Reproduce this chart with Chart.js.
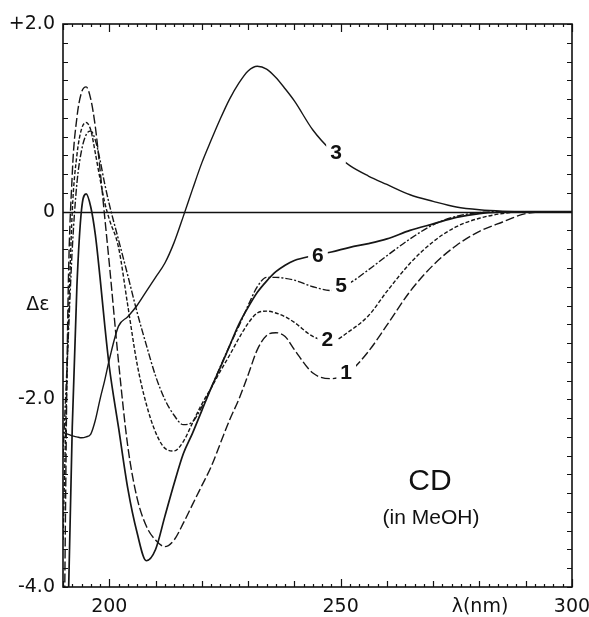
<!DOCTYPE html>
<html><head><meta charset="utf-8">
<script src="https://cdn.jsdelivr.net/npm/chart.js@4/dist/chart.umd.min.js"></script>
<style>html,body{margin:0;padding:0;background:#fff;overflow:hidden}</style>
</head><body>
<canvas id="c" width="589" height="617"></canvas>
<script>
// wavelength grid (nm)
const wavelengths = [190,191,192,193,194,195,196,197,198,199,200,202,204,206,208,210,212,214,216,218,220,222,224,226,228,230,232,234,236,238,240,244,248,252,256,260,265,270,275,280,285,290,295,300];
// Δε values for each compound
const curve1 = [-6.0,-1.2,0.4,1.0,1.27,1.33,1.2,0.9,0.45,-0.05,-0.55,-1.6,-2.5,-3.05,-3.35,-3.5,-3.57,-3.5,-3.32,-3.12,-2.92,-2.72,-2.47,-2.22,-2.0,-1.74,-1.47,-1.32,-1.29,-1.33,-1.47,-1.72,-1.78,-1.70,-1.49,-1.21,-0.85,-0.57,-0.36,-0.21,-0.11,-0.02,0,0];
const curve2 = [-3.5,-1.5,0.0,0.6,0.88,0.95,0.87,0.62,0.35,0.1,-0.08,-0.38,-1.0,-1.62,-2.05,-2.35,-2.52,-2.55,-2.45,-2.25,-2.05,-1.88,-1.70,-1.53,-1.35,-1.19,-1.08,-1.06,-1.08,-1.12,-1.18,-1.33,-1.38,-1.27,-1.11,-0.85,-0.55,-0.32,-0.16,-0.07,-0.02,0,0,0];
const curve3 = [-2.35,-2.37,-2.39,-2.40,-2.41,-2.40,-2.37,-2.22,-2.0,-1.8,-1.58,-1.22,-1.12,-1.0,-0.85,-0.70,-0.55,-0.33,-0.05,0.24,0.52,0.76,0.99,1.20,1.37,1.50,1.55,1.52,1.43,1.31,1.18,0.87,0.65,0.49,0.38,0.29,0.18,0.11,0.05,0.02,0.005,0,0,0];
const curve5 = [-2.6,-1.5,-0.4,0.3,0.65,0.82,0.86,0.76,0.55,0.3,0.08,-0.3,-0.68,-1.07,-1.42,-1.75,-2.0,-2.17,-2.27,-2.24,-2.08,-1.88,-1.65,-1.43,-1.22,-1.0,-0.80,-0.70,-0.70,-0.71,-0.73,-0.80,-0.84,-0.76,-0.62,-0.47,-0.29,-0.14,-0.05,-0.01,0,0,0,0];
const curve6 = [-8.0,-4.5,-2.3,-0.8,0.02,0.19,0.05,-0.25,-0.7,-1.2,-1.65,-2.3,-2.95,-3.42,-3.72,-3.6,-3.25,-2.9,-2.58,-2.36,-2.12,-1.88,-1.66,-1.43,-1.2,-1.02,-0.86,-0.74,-0.64,-0.57,-0.52,-0.47,-0.43,-0.38,-0.34,-0.29,-0.20,-0.13,-0.06,-0.02,-0.005,0,0,0];
// axis ticks
const xTickValues = [200,250,300];
const xTickLabels = ['200','250','300'];
const yTickValues = [2,0,-2,-4];
const yTickLabels = ['+2.0','0','-2.0','-4.0'];
// curve labels and where they sit (nm, Δε)
const curveNames = ['1','2','3','5','6'];
const labelNm = [251.2,247.1,249.0,250.1,245.1];
const labelDe = [-1.71,-1.36,0.63,-0.78,-0.46];

const series = [curve1, curve2, curve3, curve5, curve6];
const dashes = [[9,3],[4,2],[],[7,2,2,2],[]];
const widths = [1.4,1.4,1.4,1.4,1.7];

const datasets = series.map((s,i)=>({
  label: curveNames[i],
  data: wavelengths.map((w,j)=>({x:w,y:s[j]})),
  borderColor:'#161616', borderWidth:widths[i], borderDash:dashes[i],
  pointRadius:0, fill:false, cubicInterpolationMode:'monotone'
}));

const FONT = '"DejaVu Sans", sans-serif';
const decor = {
  id:'decor',
  beforeDatasetsDraw(chart){
    const {ctx, chartArea:a, scales:{y}} = chart;
    ctx.save();
    ctx.strokeStyle='#111'; ctx.lineWidth=1.6;
    const y0 = Math.round(y.getPixelForValue(0))+0.5;
    ctx.beginPath(); ctx.moveTo(a.left,y0); ctx.lineTo(a.right,y0); ctx.stroke();
    ctx.restore();
  },
  afterDatasetsDraw(chart){
    const {ctx, chartArea:a, scales:{x,y}} = chart;
    ctx.save();
    // curve labels with white gap
    ctx.font = 'bold 21px "Liberation Sans", Arial, sans-serif';
    ctx.textAlign='center'; ctx.textBaseline='middle';
    curveNames.forEach((n,i)=>{
      const px = x.getPixelForValue(labelNm[i]), py = y.getPixelForValue(labelDe[i]);
      const w = ctx.measureText(n).width;
      ctx.fillStyle='#fff'; ctx.fillRect(px-w/2-4, py-11, w+8, 22);
      ctx.fillStyle='#111'; ctx.fillText(n, px, py+1);
    });
    // frame
    ctx.strokeStyle='#111'; ctx.lineWidth=1.6;
    ctx.strokeRect(a.left, a.top, a.right-a.left, a.bottom-a.top);
    // inward ticks
    ctx.lineWidth=1.2;
    ctx.beginPath();
    for(let v=190; v<=300; v+=2){
      const px = Math.round(x.getPixelForValue(v))+0.5;
      const len = v%50===0 ? 8 : (v%10===0 ? 6 : 3);
      ctx.moveTo(px,a.bottom); ctx.lineTo(px,a.bottom-len);
      ctx.moveTo(px,a.top); ctx.lineTo(px,a.top+len);
    }
    for(let i=0;i<=30;i++){
      const v=-4+i*0.2;
      const py = Math.round(y.getPixelForValue(v))+0.5;
      ctx.moveTo(a.left,py); ctx.lineTo(a.left+5,py);
      ctx.moveTo(a.right,py); ctx.lineTo(a.right-5,py);
    }
    ctx.stroke();
    // texts
    ctx.fillStyle='#111';
    ctx.font = '19px ' + FONT;
    ctx.textAlign='center'; ctx.textBaseline='middle';
    ctx.fillText('Δε', 38, y.getPixelForValue(-1.0));
    ctx.fillText('λ(nm)', 480, 607);
    ctx.font = '30px "Liberation Sans", Arial, sans-serif';
    ctx.fillText('CD', 430, 482);
    ctx.font = '21px "Liberation Sans", Arial, sans-serif';
    ctx.fillText('(in MeOH)', 431, 518);
    ctx.restore();
  }
};

new Chart(document.getElementById('c'), {
  type:'line',
  data:{datasets},
  plugins:[decor],
  options:{
    responsive:false, animation:false, devicePixelRatio:1,
    layout:{padding:{top:24,right:17,left:0,bottom:0}},
    plugins:{legend:{display:false}, tooltip:{enabled:false}},
    scales:{
      x:{type:'linear', min:190, max:300,
        grid:{display:false, drawTicks:false}, border:{display:false},
        afterBuildTicks:(s)=>{s.ticks = xTickValues.map(v=>({value:v}));},
        afterFit:(s)=>{s.height=30; s.paddingLeft=0; s.paddingRight=0;},
        ticks:{autoSkip:false, maxRotation:0, minRotation:0, padding:9, color:'#111', font:{family:FONT,size:19},
          callback:(v)=>{const k=xTickValues.indexOf(v); return k>=0?xTickLabels[k]:'';}}
      },
      y:{type:'linear', min:-4, max:2,
        grid:{display:false, drawTicks:false}, border:{display:false},
        afterBuildTicks:(s)=>{s.ticks = yTickValues.map(v=>({value:v}));},
        afterFit:(s)=>{s.width=63; s.paddingTop=0; s.paddingBottom=0;},
        ticks:{autoSkip:false, padding:8, color:'#111', font:{family:FONT,size:19},
          callback:(v)=>{const k=yTickValues.indexOf(v); return k>=0?yTickLabels[k]:'';}}
      }
    }
  }
});
</script>
</body></html>
